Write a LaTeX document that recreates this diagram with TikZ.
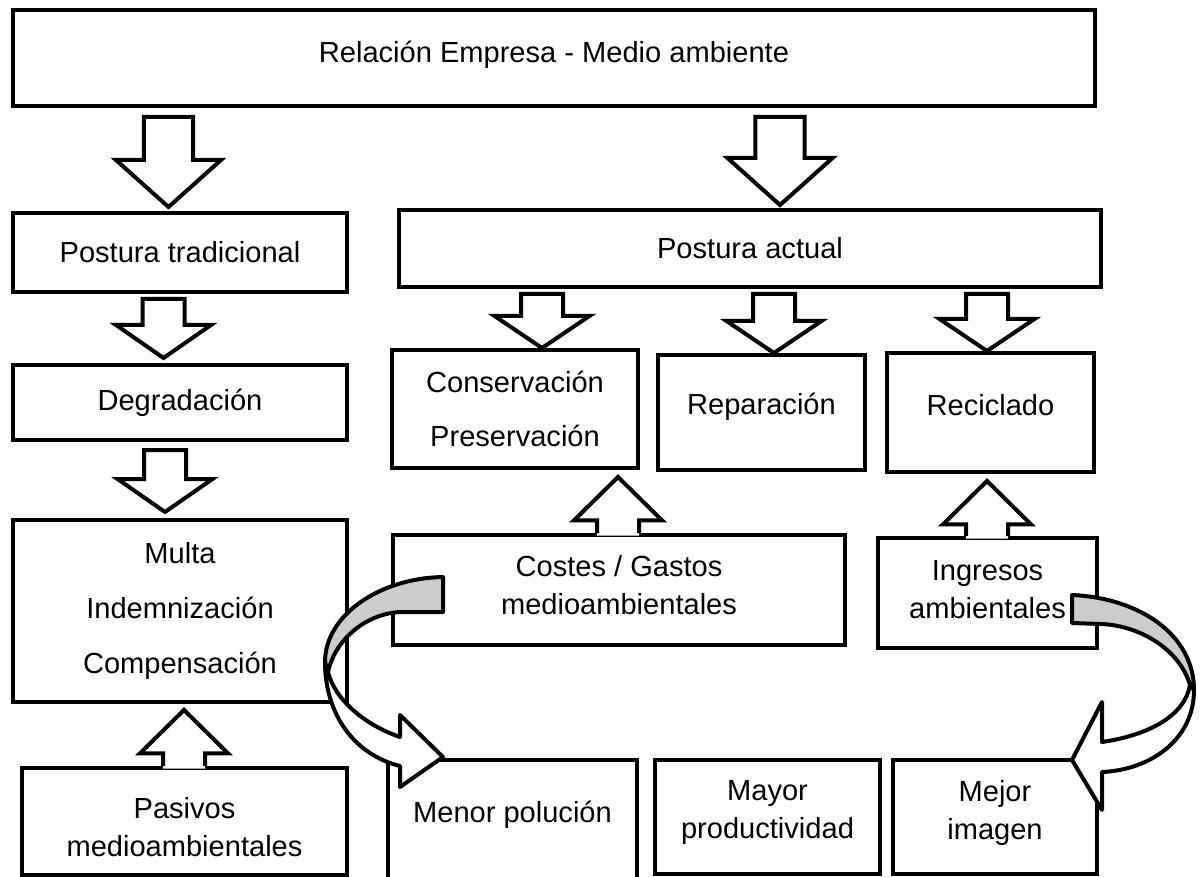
\documentclass[tikz,border=0pt]{standalone}
\usepackage{fontspec}
\setmainfont{Liberation Sans}
\usetikzlibrary{calc}
\definecolor{gris}{gray}{0.8}

% flecha de bloque hacia abajo: inicio, punta, medio tallo, media cabeza, largo cabeza
\newcommand{\flechabaja}[5]{%
  \path #1 coordinate (fa) #2 coordinate (fb) ([yshift=#5]fb) coordinate (fc);
  \path (fa |- fc) coordinate (fd);
  \draw[bloque] ([xshift=-#3]fa) -- ([xshift=-#3]fd) -- ([xshift=-#4]fd) -- (fb)
    -- ([xshift=#4]fd) -- ([xshift=#3]fd) -- ([xshift=#3]fa) -- cycle;}
% flecha de bloque hacia arriba, sale abierta del borde de la caja
\newcommand{\flechasube}[5]{%
  \path #1 coordinate (fa) #2 coordinate (fb) ([yshift=-#5]fb) coordinate (fc);
  \path (fa |- fc) coordinate (fd);
  \fill[white] ([xshift=-#3,yshift=-2pt]fa) -- ([xshift=-#3]fd) -- ([xshift=-#4]fd) -- (fb)
    -- ([xshift=#4]fd) -- ([xshift=#3]fd) -- ([xshift=#3,yshift=-2pt]fa) -- cycle;
  \draw[bloque] ([xshift=-#3]fa) -- ([xshift=-#3]fd) -- ([xshift=-#4]fd) -- (fb)
    -- ([xshift=#4]fd) -- ([xshift=#3]fd) -- ([xshift=#3]fa);}

\begin{document}
\begin{tikzpicture}[x=0.75pt,y=-0.75pt,
    caja/.style={draw=black,line width=3pt,align=center,inner sep=0pt,
      font=\fontsize{21.8}{28.5}\selectfont},
    alto/.style={text depth=#1},
    bloque/.style={draw=black,fill=white,line width=3pt,line join=miter},
    cinta/.style={draw=black,line width=3pt,line join=round}]
\useasboundingbox (0,0) rectangle (1203,877);

        % cajas
        \node[caja,alto=9pt,minimum width=811.5pt,minimum height=72pt] (rel) at (554,58) {Relación Empresa - Medio ambiente};
        \node[caja,minimum width=250.5pt,minimum height=59.25pt] (trad) at (180,252.5) {Postura tradicional};
        \node[caja,minimum width=250.5pt,minimum height=56.25pt] (degr) at (180,402.5) {Degradación};
        \node[caja,minimum width=250.5pt,minimum height=136.5pt] (multa) at (180,611) {Multa\\[12.75pt]Indemnización\\[12.75pt]Compensación};
        \node[caja,text height=52pt,minimum width=243.75pt,minimum height=80.25pt] (pasivos) at (184.5,821.5) {Pasivos\\medioambientales};
        \node[caja,minimum width=526.5pt,minimum height=57.75pt] (actual) at (750,248.5) {Postura actual};
        \node[caja,minimum width=184.5pt,minimum height=88.5pt] (cons) at (515,409) {Conservación\\[12pt]Preservación};
        \node[caja,alto=13.6pt,minimum width=155.25pt,minimum height=86.25pt] (repa) at (761.5,412.5) {Reparación};
        \node[caja,alto=12pt,minimum width=155.25pt,minimum height=89.25pt] (reci) at (990.5,412.5) {Reciclado};
        \node[caja,alto=7.5pt,minimum width=339pt,minimum height=82.5pt] (costes) at (619,590) {Costes / Gastos\\medioambientales};
        \node[caja,alto=5pt,minimum width=164.25pt,minimum height=82.5pt] (ingr) at (987.5,593) {Ingresos\\ambientales};
        \node[caja,alto=12pt,minimum width=186.75pt,minimum height=90pt] (menor) at (512.5,820) {Menor polución};
        \node[caja,alto=11.3pt,minimum width=168.75pt,minimum height=85.5pt] (mayor) at (767.5,817) {Mayor\\productividad};
        \node[caja,alto=11.3pt,minimum width=153pt,minimum height=85.5pt] (mejor) at (995,817) {Mejor\\imagen};

        % flechas rectas
        \flechabaja{($(rel.south -| 168.5,0)+(0,9)$)}{($(trad.north -| 168.5,0)+(0,-4)$)}{18.4pt}{39.4pt}{35.25pt}
        \flechabaja{($(rel.south -| 780,0)+(0,9)$)}{($(actual.north -| 780,0)+(0,-3)$)}{18.4pt}{39.4pt}{35.25pt}
        \flechabaja{($(trad.south -| 163.5,0)+(0,5)$)}{($(degr.north -| 163.5,0)+(0,-5)$)}{15.75pt}{35.6pt}{24.75pt}
        \flechabaja{($(degr.south -| 165,0)+(0,8)$)}{($(multa.north -| 165,0)+(0,-6)$)}{15.75pt}{35.6pt}{24.75pt}
        \flechabaja{($(actual.south -| 542,0)+(0,5)$)}{(cons.north -| 542,0)}{15.75pt}{35.6pt}{24pt}
        \flechabaja{($(actual.south -| 774,0)+(0,5)$)}{(repa.north -| 774,0)}{15.75pt}{35.6pt}{24pt}
        \flechabaja{($(actual.south -| 987,0)+(0,5)$)}{(reci.north -| 987,0)}{15.75pt}{35.6pt}{24pt}
        \flechasube{(costes.north -| 618,0)}{($(cons.south -| 618,0)+(0,7)$)}{15.75pt}{33pt}{32.5pt}
        \flechasube{(ingr.north -| 987,0)}{($(reci.south -| 987,0)+(0,7)$)}{15.75pt}{33pt}{32.5pt}
        \flechasube{(pasivos.north -| 184,0)}{($(multa.south -| 184,0)+(0,6)$)}{15.75pt}{33pt}{32.5pt}

        % flechas curvas
        \draw[cinta,fill=gris] (443,577) .. controls (380,578) and (325,615) .. (325,662) -- (328,672)
            .. controls (335,640) and (365,614) .. (400,612) -- (443,612) -- cycle;
        \draw[cinta,fill=white] (325,662) .. controls (325,715) and (355,755) .. (400,766)
            -- (400,787) -- (443,757) -- (400,715) -- (400,737)
            .. controls (365,725) and (335,700) .. (328,672) -- cycle;
        \draw[cinta,fill=gris] (1072,595) .. controls (1140,598) and (1194,635) .. (1194,690) -- (1190,685)
            .. controls (1180,650) and (1140,625) .. (1100,624) -- (1072,623) -- cycle;
        \draw[cinta,fill=white] (1194,690) .. controls (1194,740) and (1150,770) .. (1102,772)
            -- (1102,810) -- (1072,760) -- (1102,702) -- (1102,742)
            .. controls (1150,735) and (1185,715) .. (1190,685) -- cycle;
    \end{tikzpicture}
\end{document}
